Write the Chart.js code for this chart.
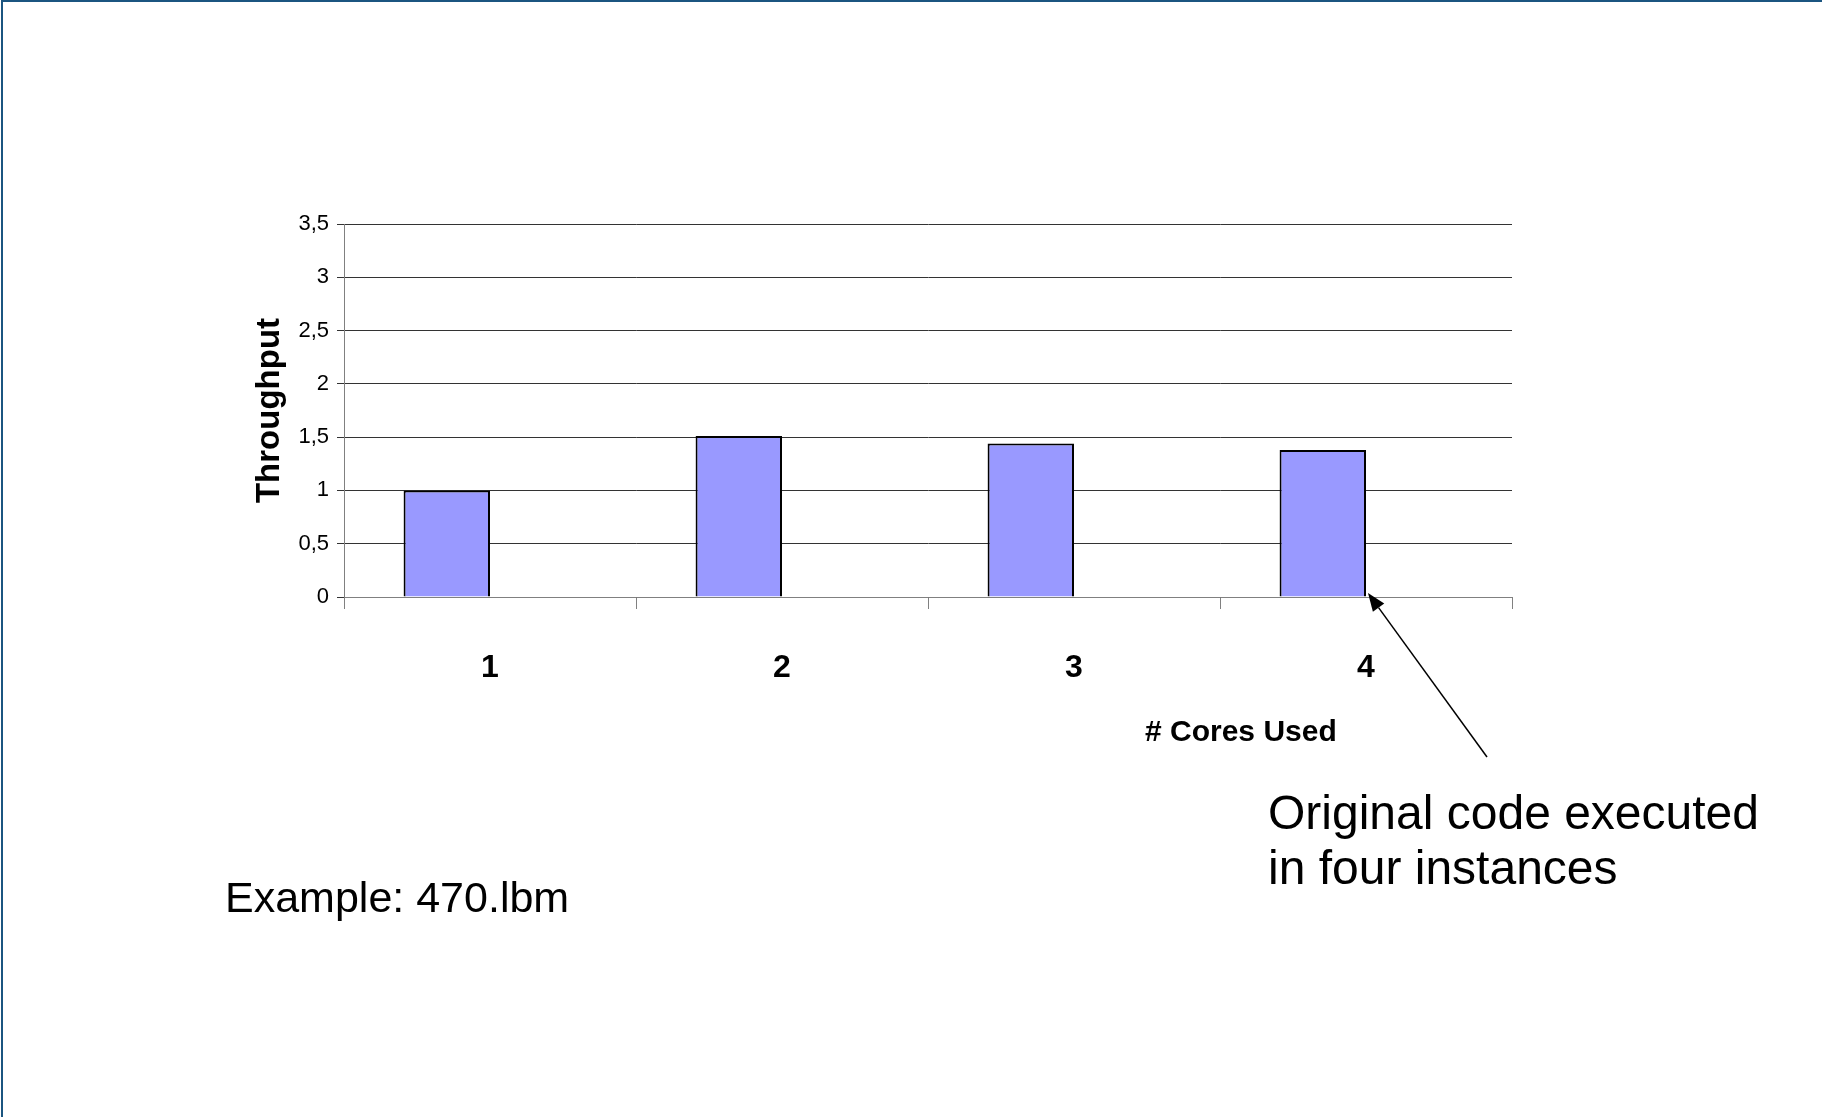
<!DOCTYPE html>
<html>
<head>
<meta charset="utf-8">
<script src="https://cdn.jsdelivr.net/npm/chart.js@4"></script>
<style>
  body { margin: 0; background: #fff; font-family: "Liberation Sans", Arial, sans-serif; }
  #slide {
    position: absolute; left: 1px; top: 0; width: 1821px; height: 1117px;
    border-top: 2px solid #1b5580; border-left: 2px solid #1b5580; box-sizing: border-box;
  }
  #grafico { position: absolute; left: 0; top: 0; }
  .txt { position: absolute; color: #000; white-space: nowrap; }
  #xtitulo { left: 1145px; top: 716px; font-size: 30px; line-height: 30px; font-weight: bold; }
  #nota { left: 1268px; top: 785px; font-size: 48px; line-height: 55px; }
  #ejemplo { left: 225px; top: 876px; font-size: 43px; line-height: 43px; }
</style>
</head>
<body>
<div id="slide"></div>
<canvas id="grafico" width="1822" height="1117"></canvas>
<div class="txt" id="xtitulo"># Cores Used</div>
<div class="txt" id="nota">Original code executed<br>in four instances</div>
<div class="txt" id="ejemplo">Example: 470.lbm</div>

<script>
const nucleos = ['1', '2', '3', '4'];
const throughput = [1.0, 1.51, 1.44, 1.38];
// second series of the original sheet, left empty
const serieVacia = [null, null, null, null];

const fuente = '"Liberation Sans", Arial, sans-serif';

// arrow from the note to the foot of the last bar
const flecha = {
    id: 'flecha',
    afterDraw(chart) {
        const { ctx, scales } = chart;
        const punta = { x: scales.x.getPixelForValue(3) + 2, y: scales.y.getPixelForValue(0) - 4 };
        const cola = { x: 1487, y: 757 };
        const ang = Math.atan2(punta.y - cola.y, punta.x - cola.x);
        const largo = 18, ancho = 7;
        const bx = punta.x - largo * Math.cos(ang), by = punta.y - largo * Math.sin(ang);

        ctx.save();
        ctx.strokeStyle = '#000';
        ctx.fillStyle = '#000';
        ctx.lineWidth = 1.5;
        ctx.beginPath();
        ctx.moveTo(cola.x, cola.y);
        ctx.lineTo(bx, by);
        ctx.stroke();
        ctx.beginPath();
        ctx.moveTo(punta.x, punta.y);
        ctx.lineTo(bx + ancho * Math.sin(ang), by - ancho * Math.cos(ang));
        ctx.lineTo(bx - ancho * Math.sin(ang), by + ancho * Math.cos(ang));
        ctx.closePath();
        ctx.fill();
        ctx.restore();
    }
};

const ctx = document.getElementById('grafico');

new Chart(ctx, {
    type: 'bar',
    data: {
        labels: nucleos,
        datasets: [{
            label: 'Throughput',
            data: throughput,
            backgroundColor: '#9999ff',
            borderColor: '#000',
            borderWidth: 2,
            categoryPercentage: 0.592,
            barPercentage: 1
        }, {
            label: 'Serie 2',
            data: serieVacia,
            backgroundColor: '#993366',
            categoryPercentage: 0.592,
            barPercentage: 1
        }]
    },
    options: {
        responsive: false,
        animation: false,
        layout: { padding: { left: 250, top: 224, right: 310, bottom: 400 } },
        plugins: {
            legend: { display: false },
            tooltip: { enabled: false }
        },
        scales: {
            x: {
                afterFit: (scale) => { scale.height = 120; },
                grid: { drawOnChartArea: false, color: '#808080', tickLength: 12 },
                border: { color: '#808080', width: 1 },
                ticks: {
                    color: '#000',
                    padding: 40,
                    font: { family: fuente, size: 32, weight: 'bold' }
                }
            },
            y: {
                min: 0,
                max: 3.5,
                afterFit: (scale) => { scale.width = 94; },
                grid: { color: '#333', tickLength: 7 },
                border: { color: '#808080', width: 1 },
                ticks: {
                    stepSize: 0.5,
                    color: '#000',
                    padding: 8,
                    font: { family: fuente, size: 22 },
                    callback: (v) => String(v).replace('.', ',')
                },
                title: {
                    display: true,
                    text: 'Throughput',
                    color: '#000',
                    padding: 0,
                    font: { family: fuente, size: 33, weight: 'bold' }
                }
            }
        }
    },
    plugins: [flecha]
});
</script>
</body>
</html>
